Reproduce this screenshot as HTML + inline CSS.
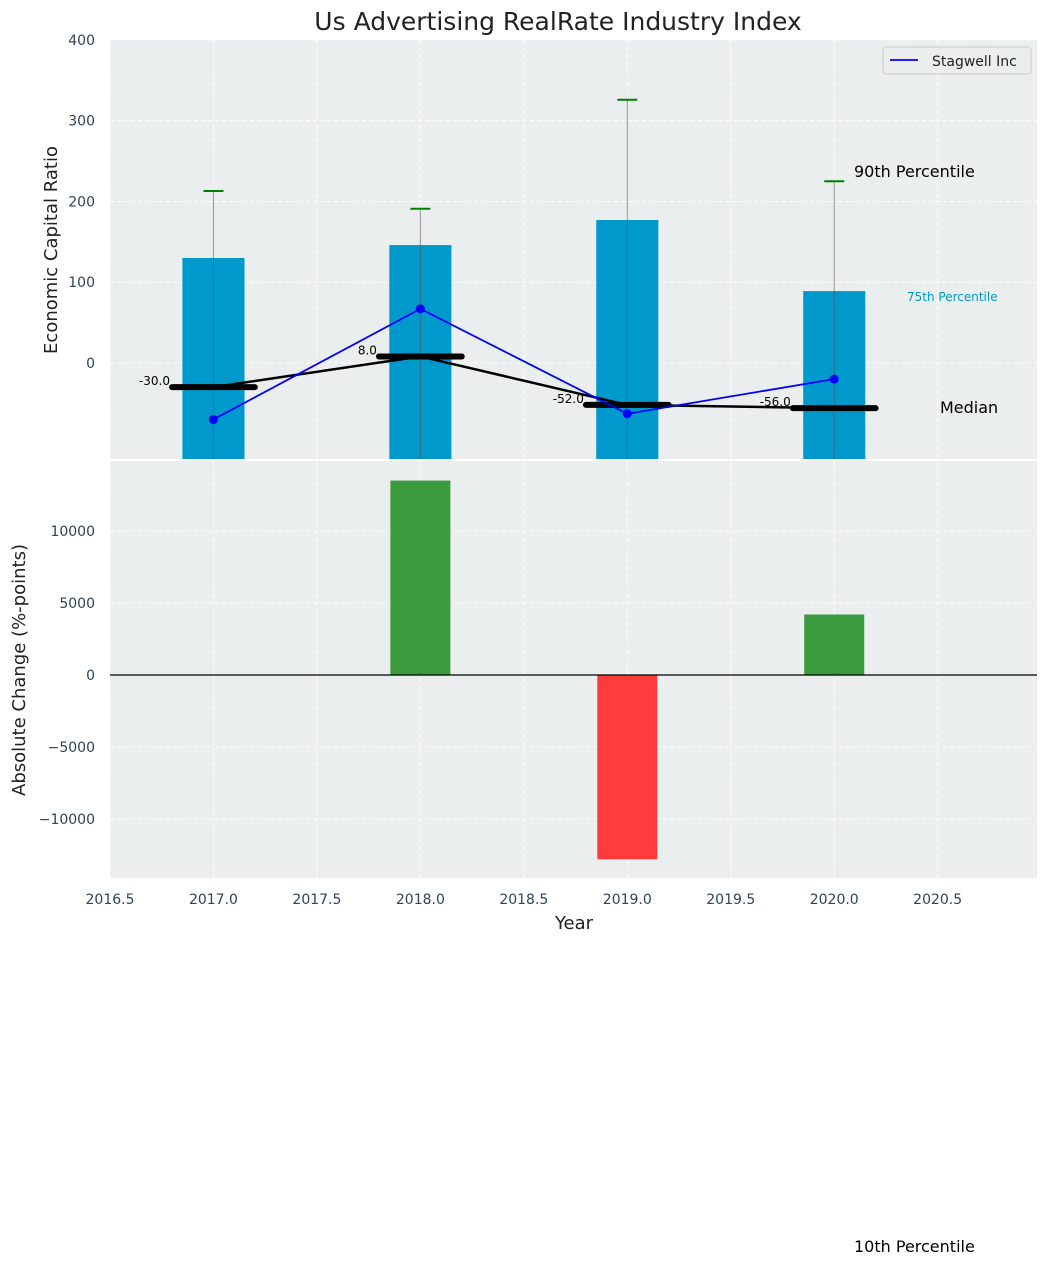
<!DOCTYPE html>
<html><head><meta charset="utf-8"><style>
body{margin:0;background:#fff;font-family:"Liberation Sans","DejaVu Sans",sans-serif}
svg text{font-family:"DejaVu Sans","Liberation Sans",sans-serif}
</style></head><body>
<svg id="c" width="1048" height="1266" xmlns="http://www.w3.org/2000/svg"></svg>
<script>
const years=[2017,2018,2019,2020];
const bar75=[130,146,177,89];
const p90=[213,191,326,225];
const stagwell=[-70,67,-63,-20];
const medians=[-30,8,-52,-56];
const changes=[0,13500,-12800,4200];
const xTicks=[2016.5,2017,2017.5,2018,2018.5,2019,2019.5,2020,2020.5];
const yTopTicks=[0,100,200,300,400];
const yBotTicks=[-10000,-5000,0,5000,10000];

const svg=document.getElementById('c');const NS='http://www.w3.org/2000/svg';
function el(t,a,p){const e=document.createElementNS(NS,t);for(const k in a)e.setAttribute(k,a[k]);(p||svg).appendChild(e);return e;}
function tx(s,a){const e=el('text',a);e.textContent=s;return e;}
const L=110,R=1037;
const X=v=>L+(v-2016.5)/(2020.98-2016.5)*(R-L);
const T0=40,T1=459,Yt=v=>T0+(400-v)/(400+119)*(T1-T0);
const B0=461,B1=878,Yb=v=>B0+(14860-v)/(14860+14100)*(B1-B0);

let r=el('rect',{x:L,y:T0,width:R-L,height:T1-T0,fill:'#eaeeee'});

r=el('rect',{x:L,y:B0,width:R-L,height:B1-B0,fill:'#eaeeee'});

xTicks.forEach(v=>{el('line',{x1:X(v),x2:X(v),y1:T0,y2:T1,stroke:'#fff','stroke-dasharray':'4,3'});el('line',{x1:X(v),x2:X(v),y1:B0,y2:B1,stroke:'#fff','stroke-dasharray':'4,3'});
 let t=tx(v.toFixed(1),{x:X(v),y:904,'font-size':14,fill:'#2e4457','text-anchor':'middle'});});
yTopTicks.forEach(v=>{el('line',{x1:L,x2:R,y1:Yt(v),y2:Yt(v),stroke:'#fff','stroke-dasharray':'4,3'});
 let t=tx(v,{x:95,y:Yt(v)+5,'font-size':14,fill:'#2e4457','text-anchor':'end'});});
yBotTicks.forEach(v=>{el('line',{x1:L,x2:R,y1:Yb(v),y2:Yb(v),stroke:'#fff','stroke-dasharray':'4,3'});
 let t=tx(v<0?'\u2212'+(-v):v,{x:95,y:Yb(v)+5,'font-size':14,fill:'#2e4457','text-anchor':'end'});});
years.forEach((y,i)=>{
 let b=el('rect',{x:X(y-0.15),y:Yt(bar75[i]),width:X(y+0.15)-X(y-0.15),height:T1-Yt(bar75[i]),fill:'#0099cc'});
 
 let l=el('line',{x1:X(y),x2:X(y),y1:Yt(p90[i]),y2:T1,stroke:'#555','stroke-opacity':0.6,'stroke-width':1});
 
 let c=el('line',{x1:X(y)-10,x2:X(y)+10,y1:Yt(p90[i]),y2:Yt(p90[i]),stroke:'green','stroke-width':2});
 
});
let mp=years.map((y,i)=>X(y)+','+Yt(medians[i])).join(' ');
let ml=el('polyline',{points:mp,fill:'none',stroke:'#000','stroke-width':2.5});

years.forEach((y,i)=>{
 let m=el('line',{x1:X(y-0.2),x2:X(y+0.2),y1:Yt(medians[i]),y2:Yt(medians[i]),stroke:'#000','stroke-width':6,'stroke-linecap':'round'});
 
 let t=tx(medians[i].toFixed(1),{x:X(y-0.21),y:Yt(medians[i])-2,'font-size':12,fill:'#000','text-anchor':'end'});
 
});
let sp=years.map((y,i)=>X(y)+','+Yt(stagwell[i])).join(' ');
let sl=el('polyline',{points:sp,fill:'none',stroke:'#0000ff','stroke-width':1.8});

years.forEach((y,i)=>{let d=el('circle',{cx:X(y),cy:Yt(stagwell[i]),r:4.5,fill:'#0000ff'});});
years.forEach((y,i)=>{if(!changes[i])return;const v=changes[i];
 let b=el('rect',{x:X(y-0.145),y:Math.min(Yb(v),Yb(0)),width:X(y+0.145)-X(y-0.145),height:Math.abs(Yb(v)-Yb(0)),fill:v>0?'#3a9a3d':'#ff3b3b'});
 });
el('line',{x1:L,x2:R,y1:Yb(0),y2:Yb(0),stroke:'#000','stroke-width':1.2});
function lab(s,a,n){let t=tx(s,a);}
lab('Us Advertising RealRate Industry Index',{x:558,y:30,'font-size':25,fill:'#222','text-anchor':'middle'},'chart-title');
lab('Economic Capital Ratio',{x:57,y:250,'font-size':18,fill:'#222','text-anchor':'middle',transform:'rotate(-90 57 250)'},'y-top-axis-title');
lab('Absolute Change (%-points)',{x:25,y:670,'font-size':18,fill:'#222','text-anchor':'middle',transform:'rotate(-90 25 670)'},'y-bottom-axis-title');
lab('Year',{x:574,y:929,'font-size':18,fill:'#222','text-anchor':'middle'},'x-axis-title');
lab('90th Percentile',{x:854,y:177,'font-size':16,fill:'#000'},'p90-annotation');
lab('75th Percentile',{x:907,y:301,'font-size':12,fill:'#0099cc'},'p75-annotation');
lab('Median',{x:940,y:413,'font-size':16,fill:'#000'},'median-annotation');
lab('10th Percentile',{x:854,y:1252,'font-size':16,fill:'#000'},'p10-annotation');
const g=el('g',{});
el('rect',{x:883,y:47,width:148,height:27,rx:3,fill:'#eaeeee',stroke:'#ccc'},g);
el('line',{x1:890,x2:918,y1:60,y2:60,stroke:'#0000ff','stroke-width':1.8},g);
let lt=el('text',{x:932,y:66,'font-size':14,fill:'#222'},g);lt.textContent='Stagwell Inc';
</script>
</body></html>
